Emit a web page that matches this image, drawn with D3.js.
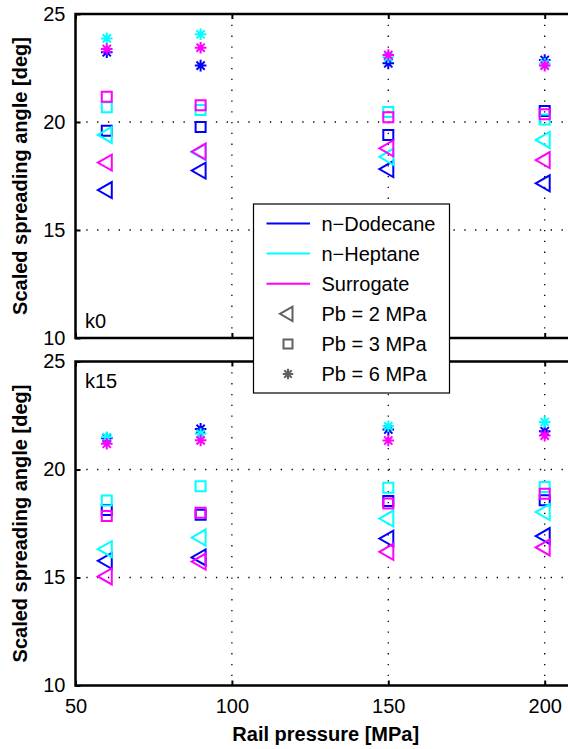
<!DOCTYPE html>
<html>
<head>
<meta charset="utf-8">
<script src="https://cdn.jsdelivr.net/npm/d3@7"></script>
<style>
  html, body { margin: 0; padding: 0; background: #fff; }
  svg { display: block; font-family: "Liberation Sans", Arial, Helvetica, sans-serif; }
</style>
</head>
<body>
<svg id="chart" width="568" height="749"></svg>
<script>
// ---------------- DATA ----------------
const railPressure = [60, 90, 150, 200];
const yTicks = [10, 15, 20, 25];
const xTicks = [50, 100, 150, 200];
const xGrid = [100, 150, 200];
const yGrid = [15, 20];
const fluids = ["n\u2212Dodecane", "n\u2212Heptane", "Surrogate"];
const fluidColors = ["#0000ff", "#00ffff", "#ff00ff"];
const pressures = ["Pb = 2 MPa", "Pb = 3 MPa", "Pb = 6 MPa"];
const markerTypes = ["triangle", "square", "star"];
const panelLabels = ["k0", "k15"];

// k0 panel
const k0_dodecane_pb2 = [16.85, 17.75, 17.82, 17.16];
const k0_dodecane_pb3 = [19.60, 19.77, 19.40, 20.51];
const k0_dodecane_pb6 = [23.23, 22.61, 22.72, 22.87];
const k0_heptane_pb2 = [19.40, 18.60, 18.39, 19.17];
const k0_heptane_pb3 = [20.68, 20.55, 20.46, 20.12];
const k0_heptane_pb6 = [23.87, 24.06, 23.00, 22.70];
const k0_surrogate_pb2 = [18.12, 18.63, 18.78, 18.24];
const k0_surrogate_pb3 = [21.17, 20.77, 20.22, 20.36];
const k0_surrogate_pb6 = [23.38, 23.44, 23.10, 22.61];

// k15 panel
const k15_dodecane_pb2 = [15.77, 15.93, 16.80, 16.92];
const k15_dodecane_pb3 = [18.12, 17.90, 18.54, 18.58];
const k15_dodecane_pb6 = [21.45, 21.88, 21.85, 21.77];
const k15_heptane_pb2 = [16.31, 16.85, 17.73, 18.03];
const k15_heptane_pb3 = [18.57, 19.23, 19.16, 19.19];
const k15_heptane_pb6 = [21.49, 21.65, 22.00, 22.20];
const k15_surrogate_pb2 = [15.05, 15.74, 16.19, 16.39];
const k15_surrogate_pb3 = [17.85, 18.00, 18.43, 18.88];
const k15_surrogate_pb6 = [21.19, 21.35, 21.34, 21.57];

const panelSeries = [
  [[k0_dodecane_pb2, k0_dodecane_pb3, k0_dodecane_pb6],
   [k0_heptane_pb2, k0_heptane_pb3, k0_heptane_pb6],
   [k0_surrogate_pb2, k0_surrogate_pb3, k0_surrogate_pb6]],
  [[k15_dodecane_pb2, k15_dodecane_pb3, k15_dodecane_pb6],
   [k15_heptane_pb2, k15_heptane_pb3, k15_heptane_pb6],
   [k15_surrogate_pb2, k15_surrogate_pb3, k15_surrogate_pb6]]
];

// ---------------- LAYOUT ----------------
const svg = d3.select("#chart");
const FONT = 20;
const x = d3.scaleLinear().domain([50, 210]).range([75.5, 75.5 + 160 * 3.128]);
const panels = [
  { top: 14, bottom: 338 },
  { top: 361.5, bottom: 685.5 }
];

function markerPath(type, s) {
  if (type === "triangle") {
    return `M${-9 * s},0L${5 * s},${-8 * s}L${5 * s},${8 * s}Z`;
  } else if (type === "square") {
    return `M${-5 * s},${-5 * s}H${5 * s}V${5 * s}H${-5 * s}Z`;
  } else {
    const r = 5.8 * s, d = r * 0.7071;
    return `M0,${-r}V${r}M${-r},0H${r}M${-d},${-d}L${d},${d}M${-d},${d}L${d},${-d}`;
  }
}

panels.forEach((p, pi) => {
  const y = d3.scaleLinear().domain([10, 25]).range([p.bottom, p.top]);
  const g = svg.append("g");

  // grid
  g.selectAll(".vg").data(xGrid).enter().append("line")
    .attr("x1", d => x(d)).attr("x2", d => x(d))
    .attr("y1", p.top).attr("y2", p.bottom)
    .attr("stroke", "#000").attr("stroke-width", 1.3)
    .attr("stroke-dasharray", "1.3,9.5");
  g.selectAll(".hg").data(yGrid).enter().append("line")
    .attr("x1", x.range()[0]).attr("x2", x.range()[1])
    .attr("y1", d => y(d)).attr("y2", d => y(d))
    .attr("stroke", "#000").attr("stroke-width", 1.3)
    .attr("stroke-dasharray", "1.3,9.5");

  // axes ticks
  const ya = g.append("g").attr("transform", `translate(${x.range()[0]},0)`)
    .call(d3.axisLeft(y).tickValues(yTicks).tickFormat(d3.format("d"))
      .tickSizeInner(-5).tickSizeOuter(0).tickPadding(10));
  ya.select(".domain").remove();
  ya.selectAll("line").attr("stroke-width", 2);
  ya.selectAll("text").attr("font-size", FONT).attr("fill", "#000")
    .attr("font-family", "Liberation Sans, Arial, sans-serif");

  const xa = g.append("g").attr("transform", `translate(0,${p.bottom})`)
    .call(d3.axisBottom(x).tickValues(xTicks).tickFormat(pi === 1 ? d3.format("d") : "")
      .tickSizeInner(-5).tickSizeOuter(0).tickPadding(13));
  xa.select(".domain").remove();
  xa.selectAll("line").attr("stroke-width", 2);
  xa.selectAll("text").attr("font-size", FONT).attr("fill", "#000")
    .attr("font-family", "Liberation Sans, Arial, sans-serif");

  const xt = g.append("g").attr("transform", `translate(0,${p.top})`)
    .call(d3.axisTop(x).tickValues(xTicks).tickFormat("")
      .tickSizeInner(-5).tickSizeOuter(0));
  xt.select(".domain").remove();
  xt.selectAll("line").attr("stroke-width", 2);

  // frame
  g.append("path")
    .attr("d", `M${x.range()[1]},${p.top}H${x.range()[0]}V${p.bottom}H${x.range()[1]}Z`)
    .attr("fill", "none").attr("stroke", "#000").attr("stroke-width", 2.5);

  // panel label
  g.append("text").attr("x", 85).attr("y", pi === 0 ? 327.5 : 388)
    .attr("font-size", FONT).text(panelLabels[pi]);

  // y label
  g.append("text")
    .attr("transform", `translate(27,${(p.top + p.bottom) / 2}) rotate(-90)`)
    .attr("text-anchor", "middle").attr("font-size", FONT).attr("font-weight", "bold")
    .text("Scaled spreading angle [deg]");

  // markers
  panelSeries[pi].forEach((fluidArr, fi) => {
    fluidArr.forEach((vals, mi) => {
      g.selectAll(null).data(vals).enter().append("path")
        .attr("d", markerPath(markerTypes[mi], 1))
        .attr("transform", (d, i) => `translate(${x(railPressure[i])},${y(d)})`)
        .attr("fill", "none").attr("stroke", fluidColors[fi])
        .attr("stroke-width", 2).attr("stroke-linejoin", "miter");
    });
  });
});

// x label
svg.append("text").attr("x", (x.range()[0] + x.range()[1]) / 2).attr("y", 741)
  .attr("text-anchor", "middle").attr("font-size", FONT).attr("font-weight", "bold")
  .text("Rail pressure [MPa]");

// legend
const lg = svg.append("g");
lg.append("rect").attr("x", 253.5).attr("y", 204).attr("width", 196).attr("height", 189)
  .attr("fill", "#fff").attr("stroke", "#000").attr("stroke-width", 1.2);
const rowY = i => 223.5 + i * 30.1;
fluids.forEach((f, i) => {
  lg.append("line").attr("x1", 266.5).attr("x2", 310).attr("y1", rowY(i)).attr("y2", rowY(i))
    .attr("stroke", fluidColors[i]).attr("stroke-width", 2);
  lg.append("text").attr("x", 321.5).attr("y", rowY(i) + 7).attr("font-size", FONT).text(f);
});
pressures.forEach((pr, j) => {
  const i = j + 3;
  lg.append("path").attr("d", markerPath(markerTypes[j], 0.9))
    .attr("transform", `translate(288,${rowY(i)})`)
    .attr("fill", "none").attr("stroke", "#606060").attr("stroke-width", 2);
  lg.append("text").attr("x", 321.5).attr("y", rowY(i) + 7).attr("font-size", FONT).text(pr);
});
</script>
</body>
</html>
